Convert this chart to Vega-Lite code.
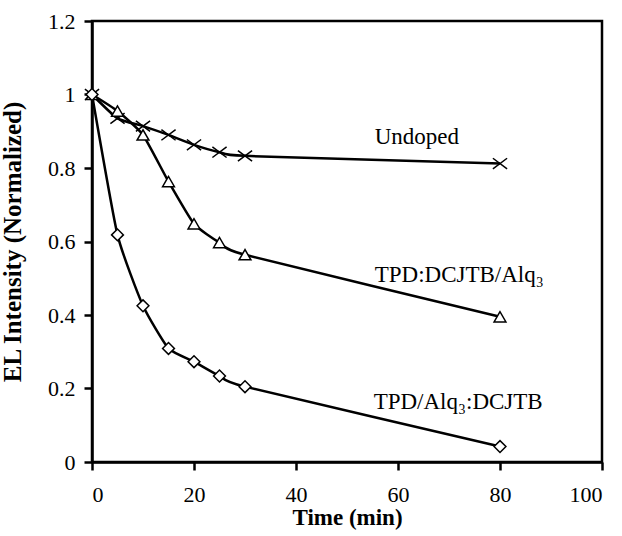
{
  "$schema": "https://vega.github.io/schema/vega-lite/v6.json",
  "width": 510,
  "height": 441,
  "autosize": "none",
  "padding": {"left": 92, "top": 21, "right": 20, "bottom": 74},
  "background": "white",
  "config": {
    "view": {"stroke": "black", "strokeWidth": 2.5},
    "font": "'Liberation Serif', serif",
    "axis": {
      "grid": false,
      "domainColor": "black",
      "domainWidth": 2.5,
      "tickColor": "black",
      "tickWidth": 2.5,
      "tickSize": 8,
      "labelFont": "'Liberation Serif', serif",
      "labelFontSize": 22,
      "labelColor": "black",
      "titleFont": "'Liberation Serif', serif",
      "titleFontSize": 23,
      "titleFontWeight": "bold",
      "titleColor": "black"
    }
  },
  "datasets": {
    "series": [
      {"series": "Undoped", "time": 0, "value": 1.0},
      {"series": "Undoped", "time": 5, "value": 0.935},
      {"series": "Undoped", "time": 10, "value": 0.914},
      {"series": "Undoped", "time": 15, "value": 0.89},
      {"series": "Undoped", "time": 20, "value": 0.863},
      {"series": "Undoped", "time": 25, "value": 0.843},
      {"series": "Undoped", "time": 30, "value": 0.833},
      {"series": "Undoped", "time": 80, "value": 0.812},
      {"series": "TPD:DCJTB/Alq3", "time": 0, "value": 1.0},
      {"series": "TPD:DCJTB/Alq3", "time": 5, "value": 0.955},
      {"series": "TPD:DCJTB/Alq3", "time": 10, "value": 0.89},
      {"series": "TPD:DCJTB/Alq3", "time": 15, "value": 0.763},
      {"series": "TPD:DCJTB/Alq3", "time": 20, "value": 0.648},
      {"series": "TPD:DCJTB/Alq3", "time": 25, "value": 0.597},
      {"series": "TPD:DCJTB/Alq3", "time": 30, "value": 0.564},
      {"series": "TPD:DCJTB/Alq3", "time": 80, "value": 0.395},
      {"series": "TPD/Alq3:DCJTB", "time": 0, "value": 1.0},
      {"series": "TPD/Alq3:DCJTB", "time": 5, "value": 0.618},
      {"series": "TPD/Alq3:DCJTB", "time": 10, "value": 0.425},
      {"series": "TPD/Alq3:DCJTB", "time": 15, "value": 0.309},
      {"series": "TPD/Alq3:DCJTB", "time": 20, "value": 0.273},
      {"series": "TPD/Alq3:DCJTB", "time": 25, "value": 0.234},
      {"series": "TPD/Alq3:DCJTB", "time": 30, "value": 0.205},
      {"series": "TPD/Alq3:DCJTB", "time": 80, "value": 0.042}
    ],
    "labels": [
      {"label": "Undoped", "time": 63.7, "value": 0.884},
      {"label": "TPD:DCJTB/Alq₃", "time": 72, "value": 0.509},
      {"label": "TPD/Alq₃:DCJTB", "time": 71.8, "value": 0.164}
    ]
  },
  "layer": [
    {
      "data": {"name": "series"},
      "mark": {"type": "line", "interpolate": "cardinal", "tension": 0.5, "color": "black", "strokeWidth": 2.5},
      "encoding": {
        "x": {
          "field": "time", "type": "quantitative",
          "scale": {"domain": [0, 100], "nice": false},
          "axis": {"values": [0, 20, 40, 60, 80, 100], "title": "Time (min)", "labelPadding": 14, "titlePadding": 1}
        },
        "y": {
          "field": "value", "type": "quantitative",
          "scale": {"domain": [0, 1.2], "nice": false},
          "axis": {"values": [0, 0.2, 0.4, 0.6, 0.8, 1, 1.2], "labelExpr": "format(datum.value, '~g')", "title": "EL Intensity (Normalized)", "titleFontSize": 25, "labelPadding": 9, "titlePadding": 22}
        },
        "detail": {"field": "series"}
      }
    },
    {
      "data": {"name": "series"},
      "mark": {"type": "point", "filled": true, "fill": "white", "stroke": "black", "strokeWidth": 1.5, "opacity": 1, "size": 140},
      "encoding": {
        "x": {"field": "time", "type": "quantitative"},
        "y": {"field": "value", "type": "quantitative"},
        "shape": {
          "field": "series", "type": "nominal",
          "scale": {
            "domain": ["Undoped", "TPD:DCJTB/Alq3", "TPD/Alq3:DCJTB"],
            "range": ["M-1.2,-0.9L1.2,0.9M-1.2,0.9L1.2,-0.9", "triangle-up", "diamond"]
          },
          "legend": null
        }
      }
    },
    {
      "data": {"name": "labels"},
      "mark": {"type": "text", "font": "'Liberation Serif', serif", "fontSize": 23, "color": "black", "align": "center", "baseline": "middle"},
      "encoding": {
        "x": {"field": "time", "type": "quantitative"},
        "y": {"field": "value", "type": "quantitative"},
        "text": {"field": "label"}
      }
    }
  ]
}
